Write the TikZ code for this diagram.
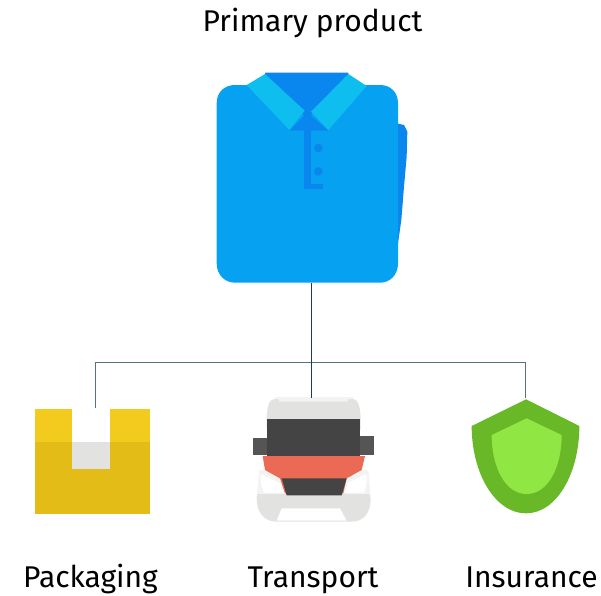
\documentclass[tikz,border=0pt]{standalone}
\usepackage{fontspec}
\setmainfont{Fira Sans}
\definecolor{shirt}{HTML}{06A1F1}
\definecolor{shirtdark}{HTML}{0A86EF}
\definecolor{collar}{HTML}{0DBEEE}
\definecolor{boxtop}{HTML}{F3CB1F}
\definecolor{boxlow}{HTML}{E4BC18}
\definecolor{vangrey}{HTML}{E2E2E1}
\definecolor{vanpale}{HTML}{F3F3F2}
\definecolor{vandark}{HTML}{444444}
\definecolor{vanmirror}{HTML}{555555}
\definecolor{vanred}{HTML}{EA6A55}
\definecolor{shieldout}{HTML}{69B828}
\definecolor{shieldin}{HTML}{90E642}
\definecolor{trunkline}{HTML}{1D3B4C}
\definecolor{branchline}{HTML}{55737F}
\tikzset{
  lab/.style={font=\fontsize{30}{33}\selectfont, text=black, inner sep=0pt, anchor=base},
  icon/.style={inner sep=0pt, outer sep=0pt, minimum width=#1},
  trunk/.style={draw=trunkline, line width=1pt},
  branch/.style={draw=branchline, line width=1pt},
  zoomed/.style={shift={#1}, x=0.33333pt, y=-0.33333pt}
}
\begin{document}
\begin{tikzpicture}[x=1pt,y=-1pt]
\useasboundingbox (0,0) rectangle (601,595);
% shirt: back panel, body, neck, collar
\begin{scope}[zoomed={(200,60)}]
  \fill[shirtdark] (590,190) -- (612,195) -- (622,215) -- (620,290) -- (612,380) -- (604,480) -- (594,550) -- cycle;
  \fill[shirt] (50,130) .. controls (50,95) and (75,75) .. (105,75) -- (540,75) .. controls (570,75) and (594,95) .. (594,130) -- (594,610) .. controls (594,645) and (570,668) .. (540,668) -- (105,668) .. controls (75,668) and (50,645) .. (50,610) -- cycle;
  \fill[shirtdark] (195,38) -- (445,38) -- (445,60) -- (322,175) -- (195,60) -- cycle;
  \fill[shirtdark] (322,158) -- (385,212) -- (268,212) -- cycle;
  \fill[shirtdark] (312,205) rectangle (332,388);
  \fill[shirtdark] (312,372) rectangle (368,388);
  \fill[shirtdark] (355,264) circle[radius=13];
  \fill[shirtdark] (355,334) circle[radius=13];
  \fill[collar] (140,75) -- (195,42) -- (314,152) -- (268,210) -- cycle;
  \fill[collar] (333,155) -- (445,42) -- (500,78) -- (385,210) -- cycle;
\end{scope}
% box
\begin{scope}[zoomed={(20,350)}]
  \fill[boxlow] (45,275) rectangle (390,492);
  \fill[boxtop] (45,177) rectangle (390,275);
  \fill[white] (157,177) rectangle (270,275);
  \fill[vangrey] (157,275) rectangle (270,358);
\end{scope}
% van
\begin{scope}[zoomed={(240,350)}]
  \fill[vanpale] (105,142) rectangle (340,160);
  \fill[vangrey] (118,155) -- (322,155) -- (326,147) -- (340,147) .. controls (355,147) and (362,175) .. (362,210) -- (362,240) -- (80,240) -- (80,210) .. controls (80,175) and (87,147) .. (102,147) -- (115,147) -- cycle;
  \fill[vanmirror] (40,265) rectangle (84,315);
  \fill[vanmirror] (358,258) rectangle (402,315);
  \fill[vanpale] (58,360) -- (385,360) -- (392,445) -- (50,445) -- cycle;
  \fill[white] (62,372) -- (120,400) -- (130,428) -- (72,428) .. controls (64,410) and (60,390) .. (62,372) -- cycle;
  \fill[white] (378,372) -- (322,400) -- (315,428) -- (372,428) .. controls (380,410) and (382,390) .. (378,372) -- cycle;
  \fill[vangrey] (52,432) -- (388,432) -- (392,445) .. controls (392,490) and (370,515) .. (335,515) -- (110,515) .. controls (75,515) and (50,490) .. (50,445) -- cycle;
  \fill[white] (125,475) -- (300,475) -- (320,512) -- (110,512) -- cycle;
  \fill[vanred] (68,318) -- (375,318) -- (365,360) -- (320,385) -- (310,430) -- (135,430) -- (120,385) -- (75,360) -- cycle;
  \fill[vandark] (82,208) rectangle (360,318);
  \fill[vandark] (125,385) -- (320,385) -- (305,436) -- (140,436) -- cycle;
\end{scope}
% shield
\begin{scope}[zoomed={(450,350)}]
  \fill[shieldout] (228,148) -- (388,228) .. controls (388,370) and (320,490) .. (228,490) .. controls (135,490) and (65,370) .. (65,228) -- cycle;
  \fill[shieldin] (230,205) -- (335,255) .. controls (335,350) and (295,432) .. (230,432) .. controls (165,432) and (125,350) .. (125,255) -- cycle;
\end{scope}
% anchors of the connectors
\node[icon=181pt, minimum height=199pt] (product) at (307.5,183.5) {};
\node[icon=115pt, minimum height=105pt] (packaging) at (95,460.5) {};
\node[icon=121pt, minimum height=124pt] (transport) at (311,460) {};
\node[icon=108pt, minimum height=116pt] (insurance) at (525,456) {};
\coordinate (hub) at (311,362);
% connectors
\draw[branch] (packaging.north) -- (packaging.north |- hub) -- (insurance.north |- hub) -- (insurance.north);
\draw[trunk] (product.south -| hub) -- (transport.north -| hub);
% labels
\node[lab] (ttop) at (312.5,31) {Primary product};
\node[lab] (tpack) at (90.5,587) {Packaging};
\node[lab] (ttrans) at (313,587) {Transport};
\node[lab] (tins) at (531.5,587) {Insurance};
\end{tikzpicture}
\end{document}
